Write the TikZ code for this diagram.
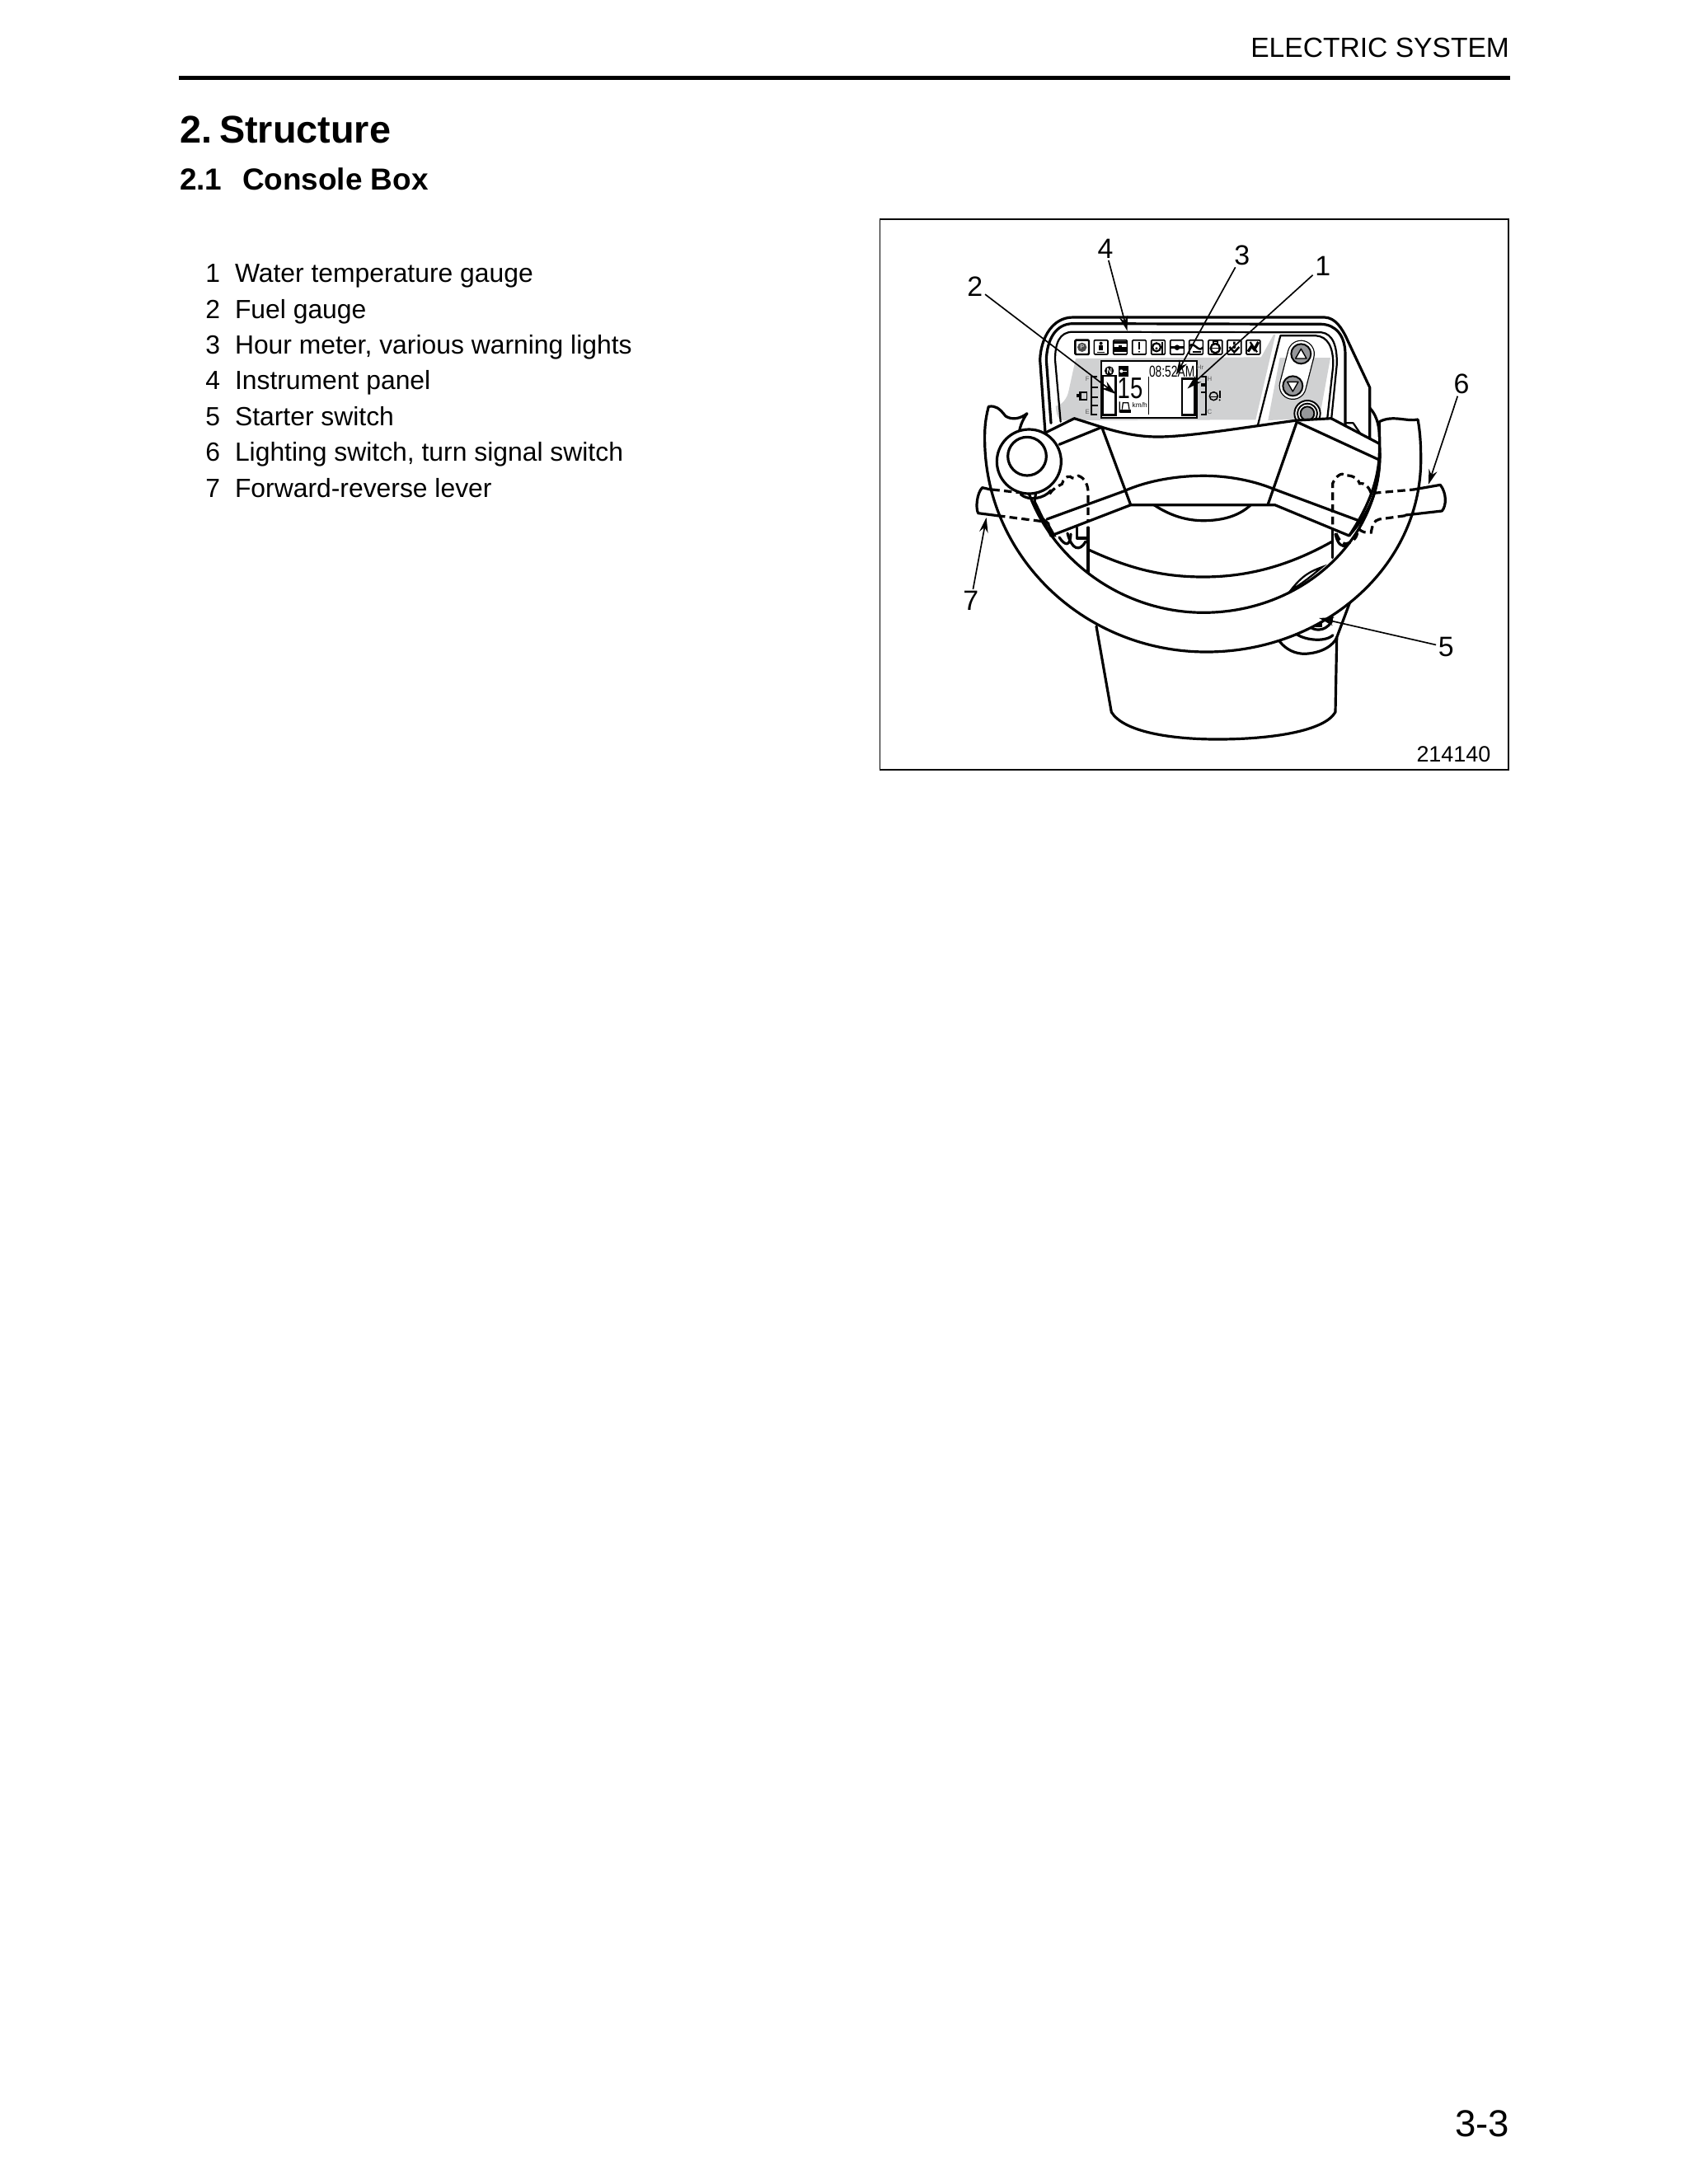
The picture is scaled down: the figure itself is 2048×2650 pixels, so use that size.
\documentclass[tikz,border=0pt]{standalone}
\usepackage{fontspec}
\usepackage{graphicx}
\setmainfont{Liberation Sans}
\usetikzlibrary{arrows.meta}
\newcommand{\fsz}[1]{\fontsize{#1}{#1}\selectfont}
\tikzset{
  zone/.style={shift={(1040,250)},x=0.18367pt,y=-0.15859pt},
  ztwo/.style={shift={(1230,370)},x=0.12pt,y=-0.12pt},
  zthree/.style={shift={(1160,470)},x=0.12pt,y=-0.12pt},
  zfour/.style={shift={(1460,470)},x=0.12pt,y=-0.12pt},
  outline/.style={line width=1.15pt,line join=round,line cap=round},
  thinline/.style={line width=0.8pt,line join=round,line cap=round},
  dashline/.style={line width=1.15pt,dash pattern=on 3.4pt off 1.9pt},
  leader/.style={line width=0.6pt,-{Stealth[length=6.5pt,width=3.8pt]}},
  txt/.style={inner sep=0pt,outer sep=0pt},
  num/.style={inner sep=1pt,outer sep=0pt,font=\fsz{12.2}},
  listnum/.style={txt,anchor=base east,font=\fsz{11.47}},
  listtxt/.style={txt,anchor=base west,font=\fsz{11.47}},
  iconbox/.style={line width=0.6pt,rounded corners=0.4pt,draw=black},
}
\definecolor{panelgrey}{HTML}{D0D1D2}
\definecolor{buttongrey}{HTML}{96979A}
\begin{document}
\begin{tikzpicture}[x=0.36pt,y=-0.36pt]
\path[use as bounding box,fill=white] (0,0) rectangle (2048,2650);

% --- page text
\node[txt,anchor=base east,font=\fsz{12.1}] (header) at (1831,69) {ELECTRIC SYSTEM};
\fill (217,91.5) rectangle (1832,97);
\node[txt,anchor=base west,font=\fsz{16.85}\bfseries] (secno) at (218,173) {2.};
\node[txt,anchor=base west,font=\fsz{16.85}\bfseries] (sectitle) at (266,173) {Structure};
\node[txt,anchor=base west,font=\fsz{13.3}\bfseries] (subno) at (218,230) {2.1};
\node[txt,anchor=base west,font=\fsz{13.3}\bfseries] (subtitle) at (294,230) {Console Box};
\foreach \i/\y/\t in {1/342.6/Water temperature gauge,2/386/Fuel gauge,3/429.4/{Hour meter, various warning lights},4/472.8/Instrument panel,5/516.2/Starter switch,6/559.6/{Lighting switch, turn signal switch},7/603/Forward-reverse lever}{
  \node[listnum] (ln\i) at (267,\y) {\i};
  \node[listtxt] (lt\i) at (285,\y) {\t};
}
\node[txt,anchor=base east,font=\fsz{16.4}] (pageno) at (1831,2592) {3-3};

% --- frame
\draw[line width=0.7pt] (1067.5,266) rectangle (1830,934);

% --- instrument panel
\begin{scope}[ztwo]
\fill[panelgrey] (225,195) -- (900,190) -- (945,108) -- (952,108) -- (880,418) -- (180,420) .. controls (160,420) and (155,400) .. (152,368) .. controls (175,365) and (195,340) .. (200,310) -- cycle;
\fill[panelgrey] (968,192) -- (1152,192) -- (1112,412) -- (925,420) -- cycle;
% contours
\draw[outline] (114,465) -- (95,200) .. controls (98,120) and (140,45) .. (215,45) -- (1130,45) .. controls (1170,46) and (1195,85) .. (1215,130) -- (1295,300) -- (1295,520);
\draw[outline] (135,430) -- (118,200) .. controls (120,130) and (150,68) .. (215,68) -- (1120,70) .. controls (1170,72) and (1206,110) .. (1206,180) -- (1206,440);
\draw[thinline] (170,425) -- (150,200) .. controls (150,140) and (165,98) .. (215,98) -- (1120,100) .. controls (1160,105) and (1178,150) .. (1175,220) -- (1155,420);
\draw[thinline] (888,437) -- (970,112) -- (1100,112) .. controls (1140,115) and (1163,150) .. (1162,220) -- (1140,420);
\draw[thinline] (1206,430) -- (1235,430) -- (1262,470);
\draw[outline] (1295,375) .. controls (1315,395) and (1330,430) .. (1330,480);
% warning icons
\foreach \c in {248,317,387,456,525,594,663,733,802,871}{
  \draw[iconbox] (\c-25,128) rectangle (\c+25,180);
}
\draw[iconbox,line width=0.85pt] (223,128) rectangle (273,180);
\fill[black!70] (248,154) circle[radius=17];
\node[txt,text=white,font=\fsz{2.6}] (iconp) at (248,154) {P};
\fill (317,140) circle[radius=6];
\fill (309,148) rectangle (325,166);
\draw[line width=0.5pt] (303,172) -- (331,172);
\fill (362,131) rectangle (412,141);
\fill (362,154) rectangle (412,172);
\fill (380,148) rectangle (394,154);
\fill (453,136) rectangle (459,162);
\fill (456,170) circle[radius=3.5];
\draw[line width=0.8pt] (519,154) circle[radius=15];
\fill (519,158) circle[radius=5];
\draw[line width=0.7pt] (541,134) -- (541,176);
\draw[line width=0.9pt] (570,155) -- (618,155);
\fill (594,155) circle[radius=10];
\draw[line width=0.9pt] (640,150) .. controls (655,130) and (670,175) .. (688,155);
\draw[line width=0.7pt] (650,172) -- (680,172);
\draw[line width=0.85pt] (733,158) circle[radius=17];
\draw[line width=0.5pt] (716,158) -- (750,158);
\draw[line width=0.7pt] (725,132) rectangle (741,142);
\draw[line width=0.9pt] (802,134) -- (802,145) (784,153) -- (802,172) -- (820,153);
\fill (802,153) circle[radius=6];
\draw[line width=1.2pt] (852,170) -- (865,150) -- (875,162) -- (890,135);
\draw[line width=0.8pt] (860,135) -- (885,172);
% LCD
\draw[line width=0.65pt,fill=white] (317,204) rectangle (665,410);
\fill (347,240) circle[radius=17];
\node[txt,text=white,font=\fsz{3.4}\bfseries] (lcdn) at (347,240) {N};
\fill (380,222) rectangle (418,260);
\fill[white] (391,241) circle[radius=6];
\draw[white,line width=0.4pt] (391,241) -- (412,241);
\node[txt,font=\fsz{6.9}] (clock) at (575,242) {\scalebox{0.72}[1]{08:52AM}};
\draw[line width=1.05pt] (323,258) rectangle (370,400);
\draw[line width=1.05pt] (612,268) rectangle (658,400);
\node[txt,font=\fsz{13}] (speed) at (423,305) {\scalebox{0.76}[1]{15}};
\node[txt,font=\fsz{3}] (kmh) at (458,365) {km/h};
\draw[line width=0.45pt] (490,262) -- (490,398);
\fill (386,380) rectangle (425,392);
\draw[line width=0.45pt] (385,352) -- (385,392) (394,380) -- (397,356) -- (416,356) -- (420,380);
% gauges
\draw[line width=0.8pt] (304,260) -- (283,260) -- (283,398) -- (304,398);
\draw[line width=0.8pt] (283,300) -- (305,300) (283,335) -- (305,335) (283,365) -- (305,365);
\draw[line width=0.8pt] (680,262) -- (698,262) -- (698,398) -- (680,398);
\fill (680,284) rectangle (696,298);
\draw[line width=0.8pt] (682,318) -- (698,318);
\node[txt,text=black!65,font=\fsz{2.8}] (gf) at (268,270) {F};
\node[txt,text=black!65,font=\fsz{2.8}] (ge) at (268,388) {E};
\node[txt,text=black!65,font=\fsz{2.8}] (gh) at (712,270) {H};
\node[txt,text=black!65,font=\fsz{2.8}] (gc) at (712,388) {C};
\node[txt,text=black!65,font=\fsz{2.8}] (ghr) at (678,226) {Hr};
\draw[line width=0.55pt] (240,318) rectangle (265,345);
\fill (228,325) rectangle (240,335);
\draw[line width=0.55pt] (245,318) -- (245,345);
\draw[line width=0.55pt] (727,332) circle[radius=15];
\draw[line width=0.55pt] (712,335) -- (742,335) (722,318) -- (732,318);
\fill (746,312) rectangle (752,338);
\fill (749,346) circle[radius=3.5];
% buttons
\draw[line width=12pt,line cap=round] (1045,178) -- (1015,295);
\draw[white,line width=11.1pt,line cap=round] (1045,178) -- (1015,295);
\draw[line width=0.7pt,fill=buttongrey] (1045,178) circle[radius=36];
\draw[line width=0.7pt,fill=buttongrey] (1015,295) circle[radius=36];
\draw[line width=0.5pt,fill=white,line join=round] (1045,160) -- (1025,195) -- (1065,195) -- cycle;
\draw[line width=0.5pt,fill=white,line join=round] (1015,315) -- (995,280) -- (1035,280) -- cycle;
\draw[line width=0.7pt,fill=white] (1068,395) circle[radius=47];
\draw[line width=0.7pt] (1068,395) circle[radius=36];
\draw[line width=0.7pt,fill=buttongrey] (1068,395) circle[radius=25];
\end{scope}

% --- column and starter switch
\draw[outline] (1330,760) -- (1348.3,864) .. controls (1363,888) and (1420,897) .. (1476.7,897) .. controls (1543,897) and (1607,887) .. (1620,864) -- (1621.7,773.3) -- (1641.7,720);
\draw[outline] (1550,775) .. controls (1560,790) and (1573,793) .. (1581.7,793.3) .. controls (1603,793) and (1618,783) .. (1621.7,773.3);
\draw[outline] (1570,767.3) .. controls (1580,776.7) and (1607,780) .. (1617,770.7);
\draw[outline] (1586.7,758.3) .. controls (1593,766) and (1607,767) .. (1615,755) -- (1616.7,740);
\draw[line width=0.5pt,fill=black] (1597,749) rectangle (1603,760);

% --- parts seen inside the wheel
\draw[outline] (1320,640) -- (1320,695);
\draw[outline] (1320,666.7) .. controls (1370,690) and (1410,700) .. (1460,700) .. controls (1520,700) and (1570,683) .. (1616.7,656.7);
\draw[outline] (1616.7,640) -- (1616.7,676.7);
\draw[outline] (1400,612.7) .. controls (1420,626) and (1440,631.7) .. (1460,631.7) .. controls (1485,631.7) and (1505,625) .. (1518.3,611.7);
\draw[outline] (1285,652) .. controls (1292,662) and (1298,664) .. (1299,648);
\draw[outline] (1295,647) .. controls (1300,667) and (1310,670) .. (1317,657);
\draw[outline] (1306.7,640) -- (1306.7,653) -- (1318,653);
\draw[outline] (1620,648) .. controls (1623,661) and (1628,664) .. (1634,662);

% --- steering wheel rim
\draw[outline,fill=white] (1199.3,493.3) .. controls (1195,510) and (1194.6,520) .. (1194.6,532)
  .. controls (1194.6,675) and (1315,791) .. (1463.5,791)
  .. controls (1607,791) and (1723.7,687) .. (1723.7,558)
  .. controls (1723.7,540) and (1723,525) .. (1720,509)
  .. controls (1706,512) and (1690,503) .. (1673.3,511.7)
  -- (1674,549.6)
  .. controls (1674,657) and (1578,743.3) .. (1460,743.3)
  .. controls (1340,743.3) and (1236,648) .. (1236,530)
  .. controls (1236,520) and (1240,510) .. (1246,501.7)
  .. controls (1238,508) and (1228,510) .. (1220,505)
  .. controls (1212,495) and (1208,492) .. (1199.3,493.3) -- cycle;
\draw[line width=0.8pt,fill=white] (1566,716) .. controls (1580,698) and (1590,693) .. (1604,688) .. controls (1592,698) and (1580,708) .. cycle;

% --- spokes / yoke
\draw[outline,fill=white] (1268.3,525) -- (1303.3,507.7) -- (1336.7,518.3)
  .. controls (1365,527) and (1385,530) .. (1405,530)
  .. controls (1440,530) and (1500,520) .. (1573.3,510)
  -- (1615,507.7) -- (1673.3,538.3)
  .. controls (1675,580) and (1660,615) .. (1636.7,650)
  -- (1546.7,612.7) -- (1371.7,612.7) -- (1275,650) -- (1255,608.3) -- cycle;
\draw[outline] (1285,539.3) -- (1336.7,518.3) -- (1371.7,612.7);
\draw[outline] (1270,630) -- (1363.3,596) .. controls (1390,584) and (1425,577.3) .. (1460,577.3) .. controls (1495,577.3) and (1525,585) .. (1545,593.3) -- (1648.3,631.7);
\draw[outline] (1573.3,511.7) -- (1538.3,611.7);
\draw[outline] (1575,512.7) -- (1671.7,557.3);
\draw[outline] (1674,549.6) .. controls (1674,600) and (1658,625) .. (1636.7,650);

% --- levers and hidden (dashed) outlines
\begin{scope}[zthree]
\draw[outline] (125,372) -- (95,365) .. controls (75,385) and (70,440) .. (80,458) -- (150,467);
\draw[dashline] (130,372) -- (250,385);
\draw[dashline] (150,467) -- (330,490);
\draw[dashline] (340,388) .. controls (350,370) and (370,360) .. (385,352) .. controls (390,335) and (400,322) .. (415,325) .. controls (425,335) and (435,330) .. (445,322) .. controls (470,330) and (480,360) .. (480,380) -- (480,490);
\draw[line width=0.95pt,fill=black] (336,495) -- (345,540) -- (358,540) -- (330,490) -- cycle;
\end{scope}
\begin{scope}[zfour]
\draw[outline] (765,372) -- (862,355) .. controls (885,385) and (885,430) .. (868,450) -- (735,465);
\draw[dashline] (618,385) -- (765,372);
\draw[dashline] (735,467) -- (640,480) .. controls (620,485) and (615,500) .. (610,528) .. controls (590,532) and (575,525) .. (565,515);
\draw[dashline] (610,385) .. controls (600,360) and (590,348) .. (568,350) .. controls (560,325) and (530,318) .. (515,322) .. controls (505,305) and (480,325) .. (470,350) -- (470,520);
\draw[dashline] (560,530) .. controls (555,555) and (540,565) .. (515,570) .. controls (500,565) and (490,550) .. (480,525);
\end{scope}

% --- hub knob
\begin{scope}[zthree]
\draw[outline] (235,390) .. controls (265,415) and (320,405) .. (345,375);
\draw[outline,fill=white] (265,270) circle[radius=117];
\draw[outline] (258,251) circle[radius=70];
\end{scope}

% --- callouts
\begin{scope}[zone]
\node[num] (n1) at (1107,165) {1};
\node[num] (n2) at (280,222) {2};
\node[num] (n3) at (915,135) {3};
\node[num] (n4) at (590,117) {4};
\node[num] (n5) at (1400,1215) {5};
\node[num] (n6) at (1437,490) {6};
\node[num] (n7) at (270,1088) {7};
\coordinate (t1) at (785,503);
\coordinate (t2) at (615,518);
\coordinate (t3) at (758,465);
\coordinate (t4) at (642,344);
\coordinate (t5) at (1098,1135);
\coordinate (t6) at (1358,767);
\coordinate (t7) at (307,858);
\node[txt,font=\fsz{9.7}] (figno) at (1418,1510) {214140};
\end{scope}
\foreach \i in {1,...,7}{ \draw[leader] (n\i) -- (t\i); }
\end{tikzpicture}
\end{document}
